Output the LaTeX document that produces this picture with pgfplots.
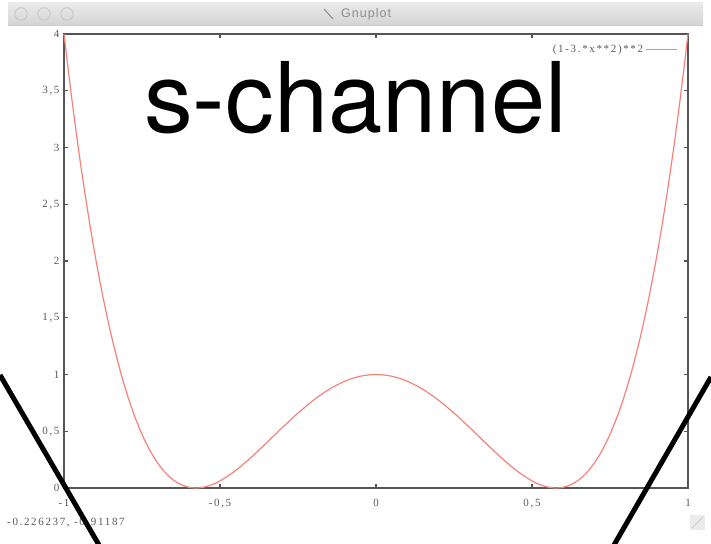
\documentclass[border=0pt]{standalone}
\usepackage{fontspec}
\setmainfont{Liberation Serif}
\newfontfamily\heros{TeX Gyre Heros}
\newfontfamily\uisans[LetterSpace=8]{Liberation Sans}
\newfontfamily\gpfont[LetterSpace=15]{Liberation Serif}
\usepackage{pgfplots}
\pgfplotsset{compat=1.18}
\definecolor{curvered}{RGB}{246,130,122}
\definecolor{framegray}{RGB}{85,85,85}
\definecolor{labgray}{RGB}{90,90,90}
\begin{document}
\begin{tikzpicture}
\begin{scope}[x=1pt,y=1pt]
\fill[white] (0,0) rectangle (711,543);
% window title bar
\shade[top color=black!8, bottom color=black!17] (8,540) rectangle (703,518);
\draw[black!20, line width=0.6pt] (8,518) -- (703,518);
\foreach \cx in {21,44,67} {\draw[black!22, line width=0.8pt] (\cx,529) circle (6.2);}
\draw[black!45, line width=1pt] (324,534) -- (333,524);
\node[anchor=west, inner sep=0pt, text=black!45] at (341,529) {\uisans\fontsize{12.5}{14}\selectfont Gnuplot};
\end{scope}
\begin{axis}[
  at={(64pt,55pt)}, anchor=south west,
  scale only axis, width=624pt, height=454pt,
  xmin=-1, xmax=1, ymin=0, ymax=4,
  xtick={-1,-0.5,0,0.5,1},
  xticklabels={-1,{-0,5},0,{0,5},1},
  ytick={0,0.5,1,1.5,2,2.5,3,3.5,4},
  yticklabels={0,{0,5},1,{1,5},2,{2,5},3,{3,5},4},
  tick align=inside,
  major tick length=4pt,
  axis line style={draw=framegray, line width=1.8pt},
  tick style={draw=framegray, line width=1.2pt},
  tick label style={font=\gpfont\fontsize{11}{12}\selectfont, text=labgray},
  xticklabel style={yshift=-8pt},
  yticklabel style={xshift=-1pt},
  legend style={at={(0.988,0.985)}, anchor=north east, draw=none, fill=none,
    font=\gpfont\fontsize{11}{12}\selectfont, legend cell align=right},
  legend plot pos=right,
  legend image code/.code={\draw[curvered, line width=1.2pt] (0pt,0pt) -- (31pt,0pt);},
  clip=false,
]
\addplot[curvered, line width=1.2pt, smooth] coordinates {
(-1,4) (-0.975,3.42944) (-0.95,2.91556) (-0.925,2.45510) (-0.9,2.0449)
(-0.875,1.68188) (-0.85,1.36306) (-0.825,1.08550) (-0.8,0.8464)
(-0.775,0.64300) (-0.75,0.47266) (-0.725,0.33278) (-0.7,0.2209)
(-0.675,0.13460) (-0.65,0.07156) (-0.625,0.029541) (-0.6,0.0064)
(-0.59,0.001962) (-0.57735,0) (-0.5625,0.002579) (-0.55,0.00856)
(-0.525,0.029972) (-0.5,0.0625) (-0.45,0.15406) (-0.4,0.2704)
(-0.35,0.40006) (-0.3,0.5329) (-0.25,0.66016) (-0.2,0.7744)
(-0.15,0.86956) (-0.1,0.9409) (-0.05,0.98506) (0,1)
(0.05,0.98506) (0.1,0.9409) (0.15,0.86956) (0.2,0.7744)
(0.25,0.66016) (0.3,0.5329) (0.35,0.40006) (0.4,0.2704)
(0.45,0.15406) (0.5,0.0625) (0.525,0.029972) (0.55,0.00856)
(0.5625,0.002579) (0.57735,0) (0.59,0.001962) (0.6,0.0064)
(0.625,0.029541) (0.65,0.07156) (0.675,0.13460) (0.7,0.2209)
(0.725,0.33278) (0.75,0.47266) (0.775,0.64300) (0.8,0.8464)
(0.825,1.08550) (0.85,1.36306) (0.875,1.68188) (0.9,2.0449)
(0.925,2.45510) (0.95,2.91556) (0.975,3.42944) (1,4)
};
\addlegendentry{\textcolor{labgray}{(1-3.*x**2)**2}}
\end{axis}
\begin{scope}[x=1pt,y=1pt]
% status line and resize grip
\node[anchor=west, inner sep=0pt, text=labgray] at (7,20) {\gpfont\fontsize{11}{12}\selectfont -0.226237, -0.91187};
\fill[black!8] (690,13) rectangle (705,28);
\draw[black!25, line width=0.6pt] (692,15) -- (703,26);
% overlay text and lines
\node[anchor=base west, inner sep=0pt] at (144,410) {\heros\fontsize{97.5}{100}\selectfont s-channel};
\draw[black, line width=5pt] (0,168) -- (99,-2);
\draw[black, line width=5pt] (711,166) -- (614,-2);
\pgfresetboundingbox
\useasboundingbox (0,0) rectangle (711,543);
\end{scope}
\end{tikzpicture}
\end{document}
